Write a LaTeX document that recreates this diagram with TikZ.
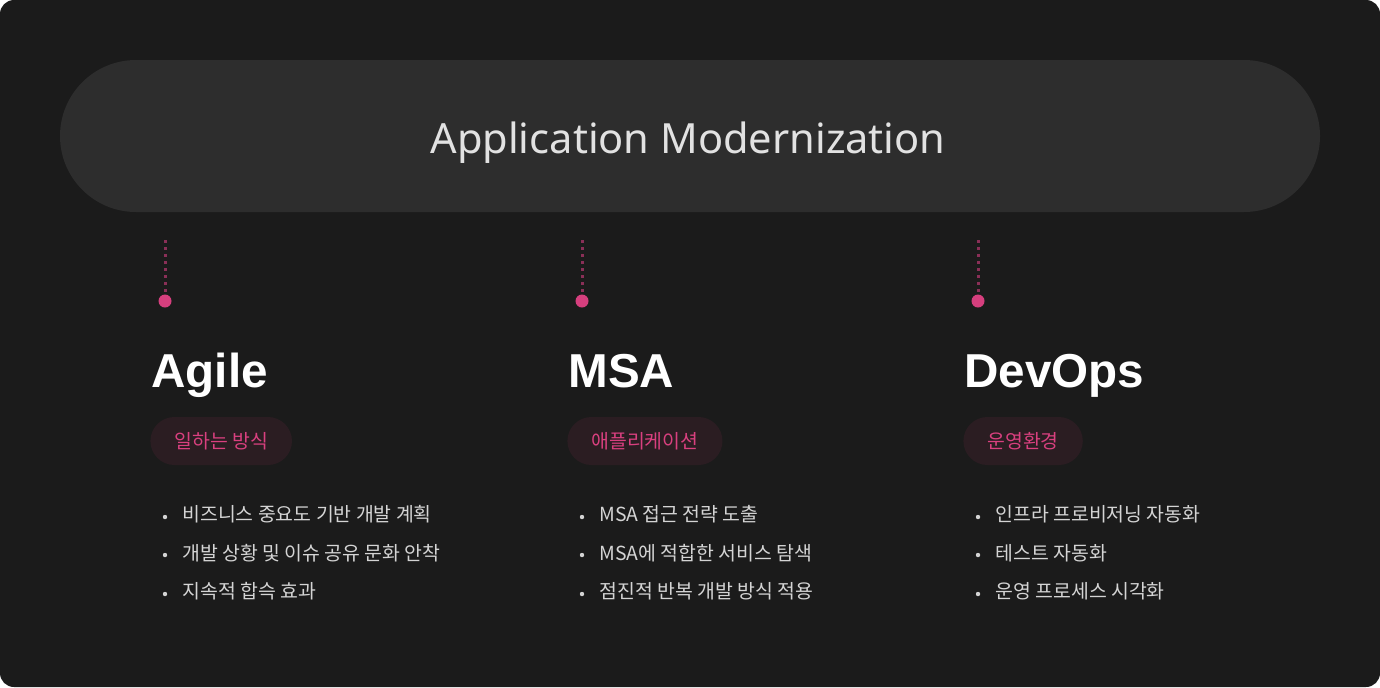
\documentclass[tikz,border=0pt]{standalone}
\usepackage{fontspec}
\setmainfont{Noto Sans}
\newfontfamily\headfont{Liberation Sans}
\newfontfamily\krfont{Noto Sans CJK KR}
\usepackage{xcolor}
\usetikzlibrary{positioning}

\definecolor{bgdark}{HTML}{1B1B1B}
\definecolor{pillgray}{HTML}{2D2D2D}
\definecolor{titletext}{HTML}{E2E2E2}
\definecolor{tagfill}{HTML}{2B1D22}
\definecolor{tagpink}{HTML}{D9407F}
\definecolor{dotpink}{HTML}{D63F7E}
\definecolor{linkpink}{HTML}{8A2F57}
\definecolor{itemtext}{HTML}{D4D4D4}

\tikzset{
  heading/.style={anchor=base west,inner sep=0pt,text=white,font=\headfont\bfseries\fontsize{23.8}{28}\selectfont},
  tag/.style={anchor=west,inner xsep=12pt,inner ysep=0pt,minimum height=24pt,rounded corners=12pt,
    fill=tagfill,text=tagpink,font=\krfont\fontsize{9.7}{11}\selectfont},
  item/.style={anchor=base west,inner sep=0pt,text=itemtext,font=\krfont\fontsize{9.7}{11}\selectfont},
  bullet/.style={circle,fill=itemtext,inner sep=0pt,minimum size=2.2pt},
  marker/.style={circle,fill=dotpink,inner sep=0pt,minimum size=6.5pt},
  link/.style={linkpink,line width=1.5pt,dash pattern=on 1.5pt off 2pt}
}

\begin{document}
\begin{tikzpicture}[x=0.5pt,y=-0.5pt]
\useasboundingbox (0,0) rectangle (1380,687);
\fill[white] (0,0) rectangle (1380,687);
\fill[bgdark,rounded corners=7pt] (0,0) rectangle (1380,687);

% title bar
\node[fill=pillgray,minimum width=630pt,minimum height=76pt,rounded corners=38pt,inner sep=0pt]
  (titlebar) at (690,136) {};
\node[anchor=base,inner sep=0pt,text=titletext,font=\fontsize{20.8}{25}\selectfont] (title) at (688,153)
  {Application Modernization};

% Agile
\coordinate (top1) at (165,240);
\node[marker] (dot1) at (165,301) {};
\draw[link] (top1) -- (dot1.north);
\node[heading] (head1) at (151,387) {Agile};
\node[tag] (tag1) at (150,441) {일하는 방식};
\node[bullet] (b11) at (165,517) {};
\node[item] (i11) at (182,521.5) {비즈니스 중요도 기반 개발 계획};
\node[bullet] (b12) at (165,555) {};
\node[item] (i12) at (182,560) {개발 상황 및 이슈 공유 문화 안착};
\node[bullet] (b13) at (165,594) {};
\node[item] (i13) at (182,598.5) {지속적 합슥 효과};

% MSA
\coordinate (top2) at (582,240);
\node[marker] (dot2) at (582,301) {};
\draw[link] (top2) -- (dot2.north);
\node[heading] (head2) at (568,387) {MSA};
\node[tag] (tag2) at (567,441) {애플리케이션};
\node[bullet] (b21) at (582,517) {};
\node[item] (i21) at (599,521.5) {MSA 접근 전략 도출};
\node[bullet] (b22) at (582,555) {};
\node[item] (i22) at (599,560) {MSA에 적합한 서비스 탐색};
\node[bullet] (b23) at (582,594) {};
\node[item] (i23) at (599,598.5) {점진적 반복 개발 방식 적용};

% DevOps
\coordinate (top3) at (978,240);
\node[marker] (dot3) at (978,301) {};
\draw[link] (top3) -- (dot3.north);
\node[heading] (head3) at (964,387) {DevOps};
\node[tag] (tag3) at (963,441) {운영환경};
\node[bullet] (b31) at (978,517) {};
\node[item] (i31) at (995,521.5) {인프라 프로비저닝 자동화};
\node[bullet] (b32) at (978,555) {};
\node[item] (i32) at (995,560) {테스트 자동화};
\node[bullet] (b33) at (978,594) {};
\node[item] (i33) at (995,598.5) {운영 프로세스 시각화};
\end{tikzpicture}
\end{document}
